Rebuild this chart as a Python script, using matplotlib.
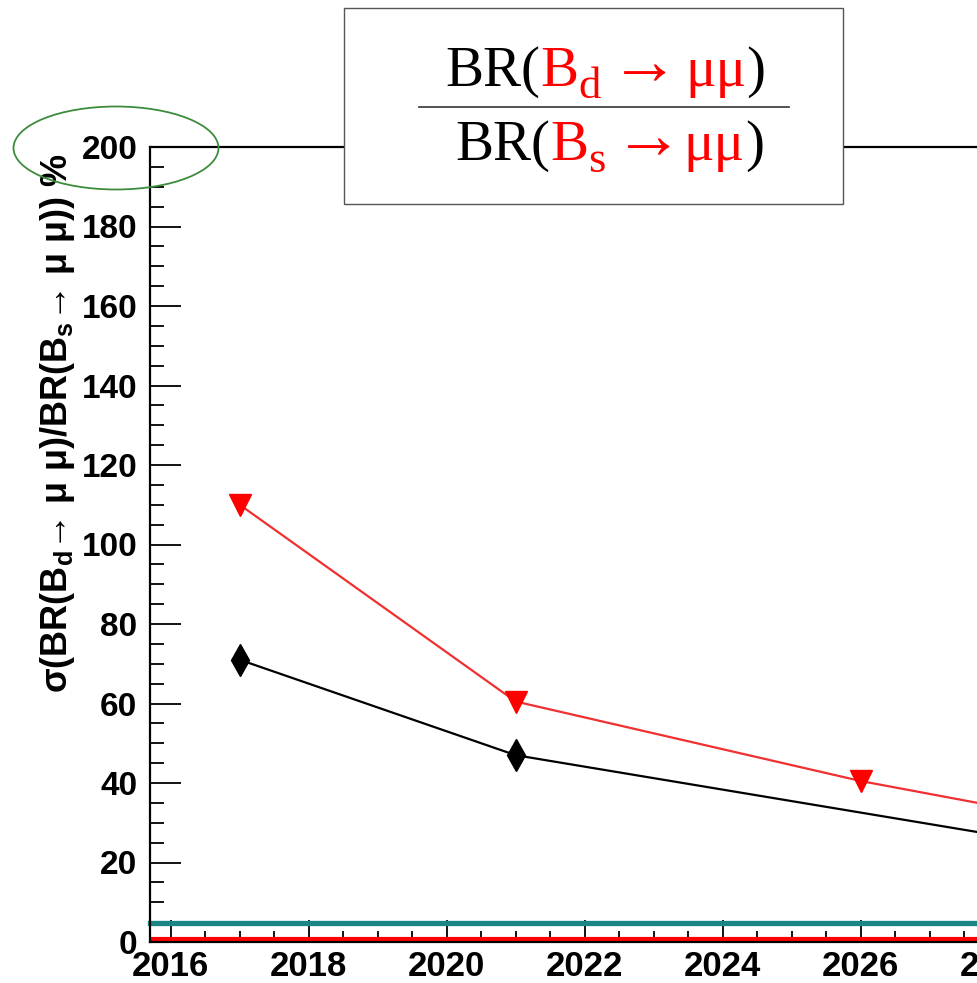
import matplotlib
matplotlib.use("Agg")
import matplotlib.pyplot as plt
from matplotlib.ticker import MultipleLocator
from matplotlib.patches import Rectangle, Ellipse
from matplotlib.lines import Line2D

# data
red_years = [2017, 2021, 2026, 2030]
red_vals = [110, 60.5, 40.5, 27.5]
black_years = [2017, 2021, 2030]
black_vals = [71, 47, 21]
teal_level = 4.8
red_level = 0.7

W, H = 978, 983
fig = plt.figure(figsize=(W / 100, H / 100), dpi=100)
fig.patch.set_facecolor("white")

# axes runs off the right edge of the picture (cropped original)
ax = fig.add_axes([150 / W, 1 - 942 / H, 1.0, (942 - 147) / H])
ax.set_xlim(2015.70, 2015.70 + W / 69.0)
ax.set_ylim(0, 200)

ax.axhline(teal_level, color="#1b8585", lw=3.8, zorder=2, clip_on=False)
ax.axhline(red_level, color="#ff0000", lw=3.0, zorder=2)

ax.plot(black_years, black_vals, color="black", lw=1.6, marker="d",
        markersize=16, markerfacecolor="black", markeredgecolor="black", zorder=3)
ax.plot(red_years, red_vals, color="#f03030", lw=1.6, marker="v",
        markersize=16, markerfacecolor="#ff0000", markeredgecolor="#ff0000", zorder=3)

ax.xaxis.set_major_locator(MultipleLocator(2))
ax.xaxis.set_minor_locator(MultipleLocator(0.5))
ax.yaxis.set_major_locator(MultipleLocator(20))
ax.yaxis.set_minor_locator(MultipleLocator(5))
ax.tick_params(axis="both", which="both", direction="in", width=1.3, colors="black",
               top=False, right=False)
ax.tick_params(axis="y", which="major", length=22, pad=9)
ax.tick_params(axis="y", which="minor", length=10)
ax.tick_params(axis="x", which="major", length=16, pad=6)
ax.tick_params(axis="x", which="minor", length=8)
for lab in ax.get_xticklabels():
    lab.set_fontfamily("Liberation Sans")
    lab.set_fontweight("bold")
    lab.set_fontsize(25)
for lab in ax.get_yticklabels():
    lab.set_fontfamily("Liberation Sans")
    lab.set_fontweight("bold")
    lab.set_fontsize(24)
for s in ax.spines.values():
    s.set_linewidth(1.6)

fig.text(58 / W, 1 - 423 / H,
         r"σ(BR(B$_\mathregular{d}$→ μ μ)/BR(B$_\mathregular{s}$→ μ μ)) %",
         rotation=90, ha="center", va="center", fontsize=26,
         fontweight="bold", family=["Liberation Sans", "DejaVu Sans"])

# formula box
fig.patches.append(Rectangle((344 / W, 1 - 204 / H), (843 - 344) / W, (204 - 8) / H,
                             transform=fig.transFigure, facecolor="white",
                             edgecolor="#555555", lw=1.0, zorder=5))
fig.lines.append(Line2D([419 / W, 789 / W], [1 - 107 / H, 1 - 107 / H],
                        transform=fig.transFigure, color="#333333", lw=1.2, zorder=6))

renderer = fig.canvas.get_renderer()
inv = fig.transFigure.inverted()


def colour_line(x_px, base_px, pieces):
    x = x_px / W
    for txt, col, size, drop in pieces:
        y = 1 - (base_px + drop) / H
        t = fig.text(x, y, txt, color=col, fontsize=size, va="baseline", ha="left",
                     family=["Liberation Serif", "DejaVu Serif"], zorder=7)
        bb = t.get_window_extent(renderer)
        x = inv.transform((bb.x1, 0))[0]


colour_line(445, 86, [("BR(", "black", 41, 0), ("B", "red", 41, 0), ("d", "red", 32, 12),
                      (" ", "red", 26, 0), ("→", "red", 50, -2), (" ", "red", 18, 0),
                      ("μμ", "red", 41, 0), (")", "black", 41, 0)])
colour_line(455, 160, [("BR(", "black", 41, 0), ("B", "red", 41, 0), ("s", "red", 32, 12),
                       (" ", "red", 26, 0), ("→", "red", 50, -2), ("μμ", "red", 41, 0),
                       (")", "black", 41, 0)])

# green ellipse around the 200 label
fig.patches.append(Ellipse((116 / W, 1 - 148 / H), 205 / W, 83 / H,
                           transform=fig.transFigure, fill=False,
                           edgecolor="#3c8c3c", lw=1.3, zorder=8))

fig.savefig("out.png", dpi=100)
